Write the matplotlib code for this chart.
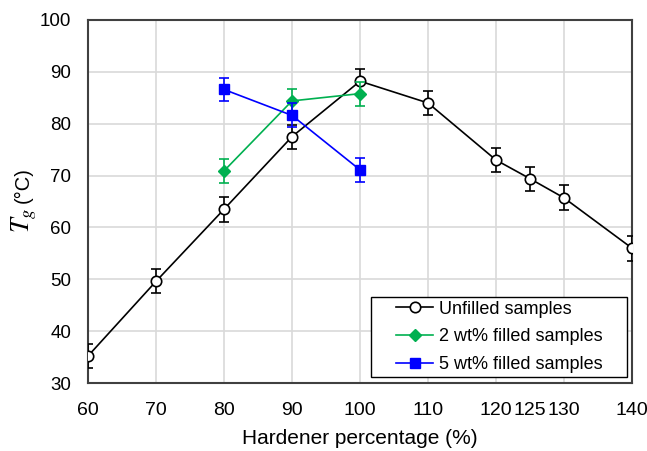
import matplotlib
matplotlib.use("Agg")
import matplotlib.pyplot as plt
from matplotlib.patches import Rectangle

plt.rcParams['font.family'] = ['Liberation Sans', 'DejaVu Sans']
plt.rcParams['mathtext.fontset'] = 'stix'

x_unfilled = [60, 70, 80, 90, 100, 110, 120, 125, 130, 140]
tg_unfilled = [35.2, 49.6, 63.5, 77.5, 88.2, 84.0, 73.0, 69.4, 65.7, 56.0]
err_unfilled = [2.3, 2.3, 2.4, 2.3, 2.4, 2.3, 2.4, 2.3, 2.4, 2.4]

x_2wt = [80, 90, 100]
tg_2wt = [70.9, 84.4, 85.8]
err_2wt = [2.3, 2.3, 2.3]

x_5wt = [80, 90, 100]
tg_5wt = [86.6, 81.6, 71.1]
err_5wt = [2.3, 2.3, 2.3]

xticks = [60, 70, 80, 90, 100, 110, 120, 125, 130, 140]
grid_x = [70, 80, 90, 100, 110, 120, 130]
yticks = [30, 40, 50, 60, 70, 80, 90, 100]

fig = plt.figure(figsize=(6.47, 4.51), dpi=100)
ax = fig.add_axes([88/647, 1-383/451, (632-88)/647, (383-20)/451])

for gx in grid_x:
    ax.axvline(gx, color='#d9d9d9', lw=1.2, zorder=0)
for gy in yticks[1:-1]:
    ax.axhline(gy, color='#d9d9d9', lw=1.2, zorder=0)

green = '#00B050'
blue = '#0000FF'

ax.errorbar(x_unfilled, tg_unfilled, yerr=err_unfilled, color='black', lw=1.2,
            marker='o', ms=7.5, mfc='white', mec='black', mew=1.2,
            capsize=3.5, capthick=1.2, elinewidth=1.2, label='Unfilled samples', zorder=3)
ax.errorbar(x_2wt, tg_2wt, yerr=err_2wt, color=green, lw=1.2,
            marker='D', ms=6.5, mfc=green, mec=green,
            capsize=3.5, capthick=1.2, elinewidth=1.2, label='2 wt% filled samples', zorder=4)
ax.errorbar(x_5wt, tg_5wt, yerr=err_5wt, color=blue, lw=1.2,
            marker='s', ms=6.5, mfc=blue, mec=blue,
            capsize=3.5, capthick=1.2, elinewidth=1.2, label='5 wt% filled samples', zorder=5)

ax.set_xlim(60, 140)
ax.set_ylim(30, 100)
ax.set_xticks(xticks)
ax.set_yticks(yticks)
ax.tick_params(axis='x', length=0, labelsize=14, pad=14)
ax.tick_params(axis='y', length=0, labelsize=13.5, pad=12)
for s in ax.spines.values():
    s.set_color('#404040')
    s.set_linewidth(1.5)

ax.set_xlabel('Hardener percentage (%)', fontsize=15, labelpad=7)

# y label: large italic T_g followed by (°C)
tg_txt = ax.text(-0.1085, 0.413, r'$T_g$', transform=ax.transAxes, rotation=90,
                 rotation_mode='anchor', ha='left', va='baseline', fontsize=19)

handles, labels = ax.get_legend_handles_labels()
handles = [h[0] for h in handles]
leg = ax.legend(handles, labels, loc='lower right', fontsize=13, frameon=False,
                borderpad=0, handlelength=2.05, handletextpad=0.3,
                labelspacing=0.6, bbox_to_anchor=(0.962, 0.002))

fig.canvas.draw()
r = fig.canvas.get_renderer()
W, H = fig.get_size_inches() * fig.dpi
tb = tg_txt.get_window_extent(r)
ax_bb = ax.get_window_extent(r)
y_next = (tb.y1 + 5 - ax_bb.y0) / ax_bb.height
ax.text(-0.1085, y_next, '(°C)', transform=ax.transAxes, rotation=90,
        rotation_mode='anchor', ha='left', va='baseline', fontsize=14.5)

bb = leg.get_window_extent(r)
dx, dy = 25, 4
rect = Rectangle(((bb.x0 - dx) / W, (bb.y0 - dy) / H),
                 (bb.width + 2 * dx) / W, (bb.height + 2 * dy) / H,
                 transform=fig.transFigure, facecolor='white',
                 edgecolor='black', lw=1.0, zorder=2)
fig.add_artist(rect)
leg.set_zorder(10)
leg.remove()
fig.add_artist(leg)

fig.savefig('out.png', dpi=100)
